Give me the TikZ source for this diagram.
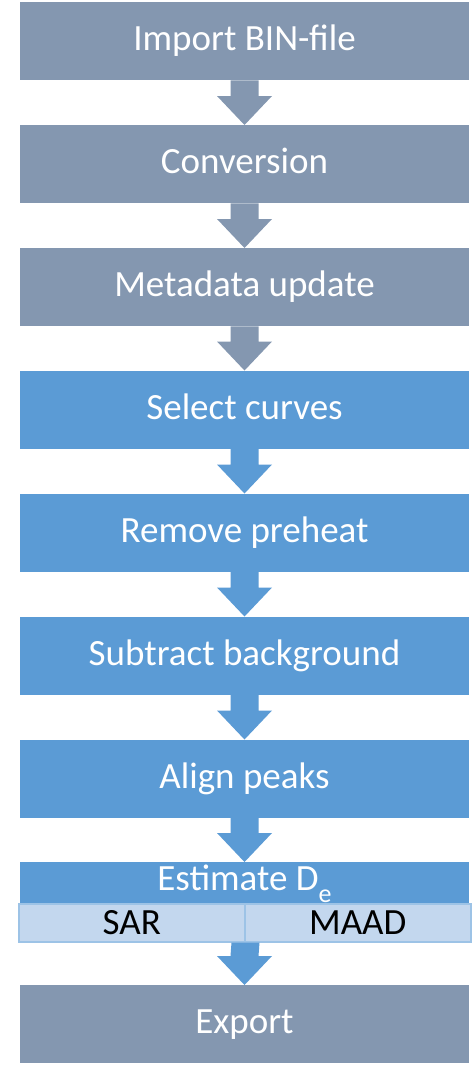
\documentclass[tikz,border=0pt]{standalone}
\usepackage{fontspec}
\setmainfont{Carlito}
\usetikzlibrary{calc}
\definecolor{greyblue}{HTML}{8497B0}
\definecolor{accblue}{HTML}{5B9BD5}
\definecolor{subfill}{HTML}{C3D7EE}
\definecolor{subline}{HTML}{9DC3E6}
\newcommand\flowarrow[3]{%
  \fill[#3] ($(#1)+(-14,0)$) -- ($(#1)+(14,0)$) -- ($(#2.north)+(14,-29)$)
    -- ($(#2.north)+(27.5,-29)$) -- (#2.north) -- ($(#2.north)+(-27.5,-29)$)
    -- ($(#2.north)+(-14,-29)$) -- cycle;}
\begin{document}
\begin{tikzpicture}[x=1pt,y=-1pt,
  stepbox/.style={minimum width=449pt, minimum height=78pt, inner sep=0pt,
    text=white, font=\fontsize{37}{40}\selectfont, anchor=north,
    text height=26pt, text depth=7pt},
  greybox/.style={stepbox, fill=greyblue},
  bluebox/.style={stepbox, fill=accblue},
  subbox/.style={minimum width=226pt, minimum height=38pt, inner sep=0pt,
    fill=subfill, draw=subline, line width=1.5pt, text=black,
    font=\fontsize{37}{40}\selectfont, anchor=north west,
    text height=24pt, text depth=0pt}]
\useasboundingbox[fill=white] (0,0) rectangle (474,1066);
\node[greybox] (n1) at (244.5,2) {Import BIN-file};
\node[greybox] (n2) at (244.5,125) {Conversion};
\node[greybox] (n3) at (244.5,248) {Metadata update};
\node[bluebox] (n4) at (244.5,370.5) {Select curves};
\node[bluebox] (n5) at (244.5,493.5) {Remove preheat};
\node[bluebox] (n6) at (244.5,616.5) {Subtract background};
\node[bluebox] (n7) at (244.5,739.5) {Align peaks};
\node[subbox] (sar) at (18,903) {SAR};
\node[subbox] (maad) at (244,903) {MAAD};
\node[bluebox, minimum height=41pt, text height=28pt, text depth=13pt] (n8) at (244.5,862) {Estimate D\raisebox{-12pt}{\fontsize{26}{28}\selectfont e}};
\coordinate (estbot) at (sar.south east);
\node[greybox] (n9) at (244.5,985) {Export};
\flowarrow{n1.south}{n2}{greyblue}
\flowarrow{n2.south}{n3}{greyblue}
\flowarrow{n3.south}{n4}{greyblue}
\flowarrow{n4.south}{n5}{accblue}
\flowarrow{n5.south}{n6}{accblue}
\flowarrow{n6.south}{n7}{accblue}
\flowarrow{n7.south}{n8}{accblue}
\flowarrow{estbot}{n9}{accblue}
\end{tikzpicture}
\end{document}
